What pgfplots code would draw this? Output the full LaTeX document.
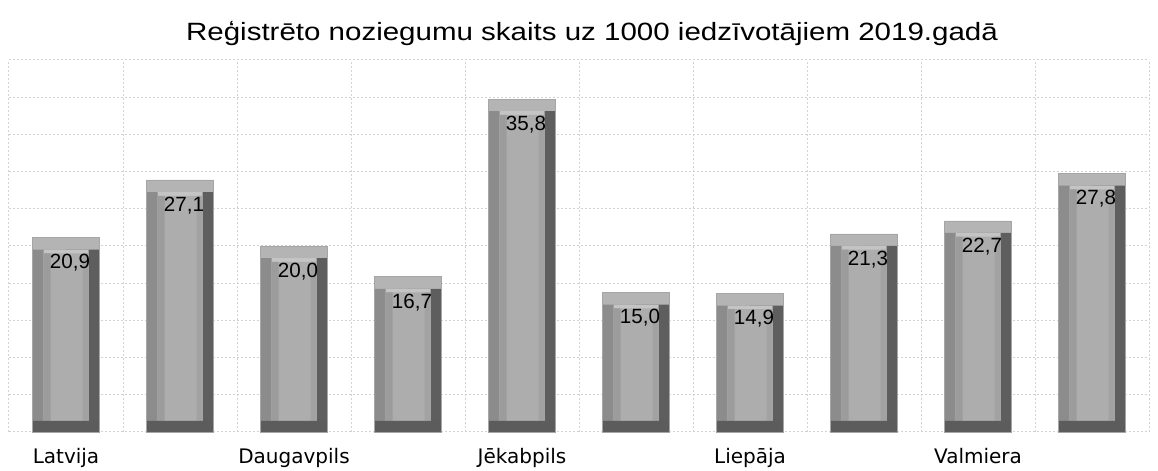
\documentclass[border=0pt]{standalone}
\usepackage{pgfplots}
\usepackage{pgfplotstable}
\pgfplotsset{compat=1.18}
\usepackage{fontspec}
\setmainfont{Liberation Sans}
\newfontfamily\titlefont[FakeStretch=1.18]{Liberation Sans}
\newfontfamily\tickfont{DejaVu Sans}
\definecolor{topbev}{HTML}{B4B4B4}
\definecolor{hilite}{HTML}{C4C4C4}
\definecolor{lbev}{HTML}{8C8C8C}
\definecolor{rbev}{HTML}{5E5E5E}
\definecolor{bbev}{HTML}{5C5C5C}
\definecolor{face}{HTML}{ADADAD}
\definecolor{faceL}{HTML}{9C9C9C}
\definecolor{faceR}{HTML}{A2A2A2}
\pgfplotstableread{
x v
0 20.9
1 27.1
2 20.0
3 16.7
4 35.8
5 15.0
6 14.9
7 21.3
8 22.7
9 27.8
}\crimes
\pgfplotstableread{
x b
0 1.2
1 1.2
2 1.2
3 1.2
4 1.2
5 1.2
6 1.2
7 1.2
8 1.2
9 1.2
}\bottoms
\begin{document}
\begin{tikzpicture}
\path[use as bounding box] (-4.5pt,-19.5pt) rectangle (574.5pt,216pt);
\begin{axis}[
  at={(0,0)}, anchor=south west,
  width=570pt, height=186pt, scale only axis,
  xmin=-0.5, xmax=9.5, ymin=0, ymax=40,
  axis line style={draw=none},
  xtick={0,2,4,6,8},
  xticklabels={Latvija,Daugavpils,Jēkabpils,Liepāja,Valmiera},
  minor xtick={-0.5,0.5,...,9.5},
  ytick={0,4,...,40}, yticklabels={},
  major tick length=0pt, minor tick length=0pt,
  xminorgrids, ymajorgrids,
  grid style={draw=gray!35, dash pattern=on 1pt off 1pt, line width=0.5pt},
  minor grid style={draw=gray!35, dash pattern=on 1pt off 1pt, line width=0.5pt},
  xticklabel style={font=\tickfont\fontsize{10}{12}\selectfont, yshift=-4.5pt},
  title={Reģistrēto noziegumu skaits uz 1000 iedzīvotājiem 2019.gadā},
  title style={font=\titlefont\fontsize{12.5}{15}\selectfont, at={(0.5,1)}, anchor=base, yshift=3.5pt, xshift=6.5pt},
  clip=false,
]
% top bevel (full bar)
\addplot[ybar, bar width=33.5pt, bar shift=0pt, draw=none, fill=topbev] table[x=x,y=v] {\crimes};
% left and right bevels
\addplot[ybar, bar width=17pt, bar shift=-8.25pt, draw=none, fill=lbev] table[x=x,y expr=\thisrow{v}-1.3] {\crimes};
\addplot[ybar, bar width=17pt, bar shift=8.25pt, draw=none, fill=rbev] table[x=x,y expr=\thisrow{v}-1.3] {\crimes};
% highlight band under top bevel
\addplot[ybar, bar width=22.5pt, bar shift=0pt, draw=none, fill=hilite] table[x=x,y expr=\thisrow{v}-1.3] {\crimes};
% face
\addplot[ybar, bar width=22.5pt, bar shift=0pt, draw=none, fill=face] table[x=x,y expr=\thisrow{v}-1.7] {\crimes};
\addplot[ybar, bar width=3.5pt, bar shift=-9.5pt, draw=none, fill=faceL] table[x=x,y expr=\thisrow{v}-1.7] {\crimes};
\addplot[ybar, bar width=3pt, bar shift=9.75pt, draw=none, fill=faceR] table[x=x,y expr=\thisrow{v}-1.7] {\crimes};
% bottom bevel
\addplot[ybar, bar width=33.5pt, bar shift=0pt, draw=none, fill=bbev] table[x=x,y=b] {\bottoms};
% outline and labels
\addplot[ybar, bar width=33.5pt, bar shift=0pt, draw=gray!70, line width=0.3pt, fill=none,
  nodes near coords,
  every node near coord/.append style={font=\fontsize{10.3}{12}\selectfont, anchor=north, yshift=-5pt, xshift=2pt,
    /pgf/number format/.cd, use comma, fixed, fixed zerofill, precision=1, assume math mode=true}]
  table[x=x,y=v] {\crimes};
\end{axis}
\end{tikzpicture}
\end{document}
